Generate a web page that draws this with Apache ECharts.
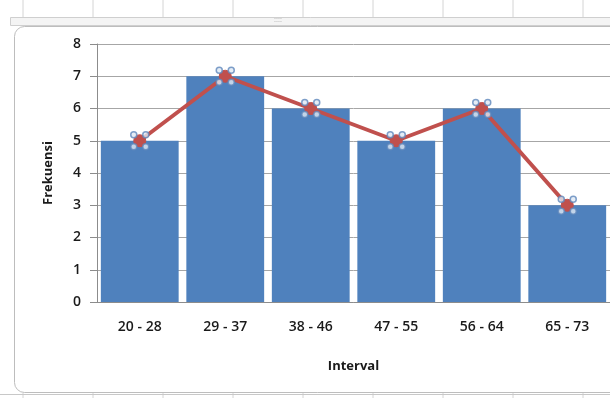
<!DOCTYPE html>
<html>
<head>
<meta charset="utf-8">
<script src="https://cdn.jsdelivr.net/npm/echarts@6/dist/echarts.min.js"></script>
<style>
  html, body { margin: 0; padding: 0; background: #fff; }
  #chart { width: 610px; height: 398px; }
</style>
</head>
<body>
<div id="chart"></div>
<script>
// Frequency table: class intervals and their counts
const intervals = ['20 - 28', '29 - 37', '38 - 46', '47 - 55', '56 - 64', '65 - 73'];
const frekuensi = [5, 7, 6, 5, 6, 3];
const yTicks = [0, 1, 2, 3, 4, 5, 6, 7, 8];

const FONT = '"Open Sans", "Liberation Sans", sans-serif';
const handleColor = '#5f87bb';

// Small handle dots around each polygon vertex
function handleSeries(dx, dy) {
  return {
    type: 'scatter',
    data: frekuensi,
    symbol: 'circle',
    symbolSize: 6,
    symbolOffset: [dx, dy],
    itemStyle: { color: '#dfe8f4', borderColor: handleColor, borderWidth: 1.5 },
    z: 4,
    silent: true
  };
}

// Spreadsheet frame around the chart object
const sheetCols = [23, 93, 163, 233, 303, 373, 443, 513, 583];
const frame = [];
sheetCols.forEach(x => {
  frame.push({ type: 'line', shape: { x1: x, y1: 0, x2: x, y2: 17 }, style: { stroke: '#d4d4d4', lineWidth: 1 }, z: 0 });
  frame.push({ type: 'line', shape: { x1: x, y1: 393, x2: x, y2: 398 }, style: { stroke: '#d4d4d4', lineWidth: 1 }, z: 0 });
});
frame.push({ type: 'rect', shape: { x: 10.5, y: 17.5, width: 620, height: 8 }, style: { fill: '#f4f4f4', stroke: '#cfcfcf', lineWidth: 1 }, z: 0 });
frame.push({ type: 'text', x: 278, y: 17, style: { text: '::::', fill: '#9a9a9a', font: '7px sans-serif', textAlign: 'center' }, z: 1 });
frame.push({ type: 'rect', shape: { x: 14.5, y: 26.5, width: 620, height: 366, r: 10 }, style: { fill: '#fff', stroke: '#bdbdbd', lineWidth: 1 }, z: 0 });
frame.push({ type: 'line', shape: { x1: 0, y1: 394.5, x2: 610, y2: 394.5 }, style: { stroke: '#c8c8c8', lineWidth: 1 }, z: 0 });

const chart = echarts.init(document.getElementById('chart'));
chart.setOption({
  animation: false,
  backgroundColor: '#fff',
  graphic: frame,
  grid: { left: 97, right: 0, top: 44, bottom: 96, containLabel: false },
  xAxis: {
    type: 'category',
    data: intervals,
    name: 'Interval',
    nameLocation: 'middle',
    nameGap: 58,
    nameTextStyle: { fontFamily: FONT, fontWeight: 'bold', fontSize: 13, color: '#1a1a1a' },
    axisLine: { lineStyle: { color: '#8c8c8c', width: 1 } },
    axisTick: { show: false },
    axisLabel: { fontFamily: FONT, fontWeight: 600, fontSize: 14, color: '#1a1a1a', margin: 18 }
  },
  yAxis: {
    type: 'value',
    min: yTicks[0],
    max: yTicks[yTicks.length - 1],
    interval: 1,
    name: 'Frekuensi',
    nameLocation: 'middle',
    nameGap: 42,
    nameRotate: 90,
    nameTextStyle: { fontFamily: FONT, fontWeight: 'bold', fontSize: 13, color: '#1a1a1a' },
    axisLine: { show: true, lineStyle: { color: '#8c8c8c', width: 1 } },
    axisTick: { show: true, length: 7, lineStyle: { color: '#8c8c8c' } },
    axisLabel: { fontFamily: FONT, fontWeight: 600, fontSize: 14, color: '#1a1a1a', margin: 16 },
    splitLine: { lineStyle: { color: '#a6a6a6', width: 1 } }
  },
  series: [
    {
      type: 'bar',
      data: frekuensi,
      barCategoryGap: '9%',
      itemStyle: { color: '#4f81bd' },
      z: 2,
      silent: true
    },
    {
      type: 'line',
      data: frekuensi,
      symbol: 'circle',
      symbolSize: 12,
      lineStyle: { color: '#c0504d', width: 4 },
      itemStyle: { color: '#c0504d', borderColor: '#c0504d' },
      z: 3,
      silent: true
    },
    handleSeries(-6, -6),
    handleSeries(6, -6),
    handleSeries(-6, 6),
    handleSeries(6, 6)
  ]
});
</script>
</body>
</html>
